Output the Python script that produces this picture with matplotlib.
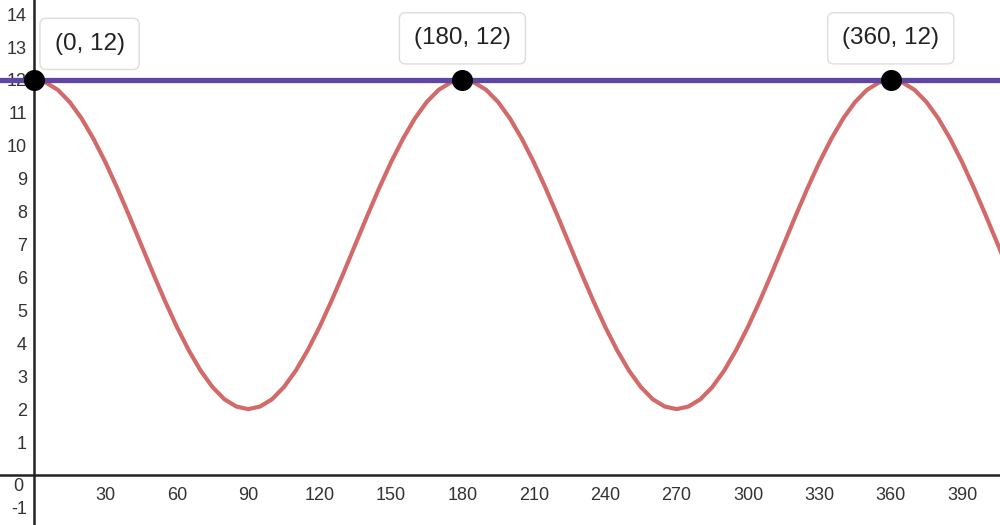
import matplotlib.pyplot as plt

plt.rcParams['font.family'] = ['Liberation Sans', 'DejaVu Sans']
plt.rcParams['axes.unicode_minus'] = False

# curve values every 5 degrees, x = 0 .. 410
x_vals = list(range(0, 415, 5))
half_up = [12, 11.92, 11.70, 11.33, 10.83, 10.21, 9.5, 8.71, 7.87, 7, 6.13, 5.29, 4.5,
           3.79, 3.17, 2.67, 2.30, 2.08, 2]
half_down = [2.08, 2.30, 2.67, 3.17, 3.79, 4.5, 5.29, 6.13, 7, 7.87, 8.71, 9.5, 10.21,
             10.83, 11.33, 11.70, 11.92, 12]
y_vals = (half_up + half_down
          + half_up[1:] + half_down
          + [11.92, 11.70, 11.33, 10.83, 10.21, 9.5, 8.71, 7.87, 7, 6.13])

line_y = 12
pts_x = [0, 180, 360]
pts_y = [12, 12, 12]
pt_labels = ['(0, 12)', '(180, 12)', '(360, 12)']

x_ticks = [30, 60, 90, 120, 150, 180, 210, 240, 270, 300, 330, 360, 390]
y_ticks = [-1, 1, 2, 3, 4, 5, 6, 7, 8, 9, 10, 11, 12, 13, 14]

fig = plt.figure(figsize=(10, 5.25), dpi=100)
ax = fig.add_axes([0, 0, 1, 1])
ax.set_xlim(-14.3, 405.9)
ax.set_ylim(-1.52, 14.43)

ax.plot(x_vals, y_vals, color='#d26a6a', lw=3.0, zorder=3, solid_joinstyle='round')
ax.axhline(line_y, color='#5f46a2', lw=3.8, zorder=4)
ax.scatter(pts_x, pts_y, s=200, color='black', zorder=6, clip_on=False)

for px, py, lab in zip(pts_x, pts_y, pt_labels):
    dx = 40 if px == 0 else 0
    dy = 26 if px == 0 else 30
    ax.annotate(lab, (px, py), xytext=(dx, dy), textcoords='offset points',
                ha='center', va='center', fontsize=17.5, color='#222222', zorder=7,
                bbox=dict(boxstyle='round,pad=0.6,rounding_size=0.25', fc='white',
                          ec='#dddddd', lw=1))

# desmos-like axes through origin
for s in ['top', 'right']:
    ax.spines[s].set_visible(False)
ax.spines['left'].set_position(('data', 0))
ax.spines['bottom'].set_position(('data', 0))
ax.spines['left'].set_linewidth(1.8)
ax.spines['bottom'].set_linewidth(1.8)
ax.spines['left'].set_color('#222222')
ax.spines['bottom'].set_color('#222222')
ax.spines['left'].set_zorder(2)
ax.spines['bottom'].set_zorder(2)

ax.set_xticks(x_ticks)
ax.set_yticks(y_ticks)
ax.tick_params(length=0, labelsize=13, labelcolor='#333333')
ax.tick_params(axis='x', pad=9)
ax.tick_params(axis='y', pad=5)
ax.text(-4.5, -0.35, '0', ha='right', va='center', fontsize=13, color='#333333')

fig.savefig('out.png', dpi=100)
